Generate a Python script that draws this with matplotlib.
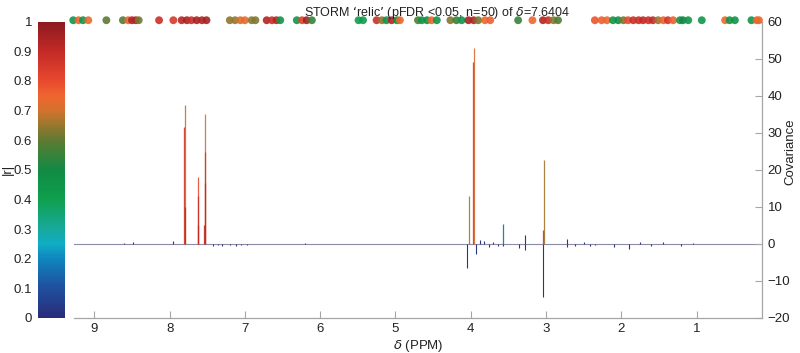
import numpy as np
import matplotlib
matplotlib.use("Agg")
import matplotlib.pyplot as plt
from matplotlib.colors import LinearSegmentedColormap, Normalize
from matplotlib.cm import ScalarMappable

plt.rcParams['font.family'] = ['Liberation Sans Narrow', 'Liberation Sans', 'DejaVu Sans']

# -----------------------------
# Data
# -----------------------------
# main spectral peaks: position (ppm), covariance, |r|
peak_ppm = [7.800, 7.803, 7.797, 7.620, 7.624, 7.617, 7.530, 7.534, 7.526, 7.538,
            4.020, 3.960, 3.963, 3.570, 3.030, 3.033]
peak_cov = [37.5, 31.6, 10.0, 18.1, 13.0, 5.0, 35.0, 24.9, 16.4, 5.0,
            13.0, 52.8, 49.2, 5.3, 22.6, 3.7]
peak_r = [0.68, 0.86, 0.90, 0.80, 0.88, 0.90, 0.70, 0.86, 0.90, 0.90,
          0.66, 0.72, 0.84, 0.15, 0.66, 0.86]

# small baseline wiggles and negative peaks
small_ppm = [8.49, 7.95, 7.42, 7.36, 7.30, 7.20, 7.12, 7.05, 6.97, 6.20,
             4.05, 3.93, 3.88, 3.82, 3.76, 3.70, 3.64, 3.57, 3.36, 3.28,
             3.275, 3.04, 2.72, 2.715, 2.62, 2.50, 2.42, 2.35, 2.10, 1.90,
             1.75, 1.60, 1.45, 1.20, 1.05, 8.60]
small_cov = [0.6, 0.8, -0.6, -0.4, -0.5, -0.4, -0.5, -0.3, -0.4, 0.3,
             -6.6, -2.7, 1.0, 0.8, -0.7, 0.6, -0.5, -0.6, -1.0, 2.4,
             -1.7, -14.3, 1.2, -0.9, -0.5, 0.5, -0.6, -0.4, -0.8, -1.5,
             0.5, -0.6, 0.4, -0.5, 0.3, 0.3]

# significant variables shown as dots along the top
dot_ppm = [9.28, 9.21, 9.15, 9.08, 8.84, 8.62, 8.55, 8.50, 8.45, 8.41,
           8.14, 7.95, 7.84, 7.77, 7.71, 7.64, 7.57, 7.51, 7.20, 7.13,
           7.06, 7.00, 6.91, 6.86, 6.71, 6.64, 6.58, 6.53, 6.31, 6.24,
           6.18, 6.11, 5.49, 5.43, 5.25, 5.18, 5.12, 5.05, 4.98, 4.94,
           4.70, 4.65, 4.58, 4.52, 4.45, 4.27, 4.19, 4.12, 4.03, 3.96,
           3.90, 3.81, 3.74, 3.37, 3.18, 3.04, 2.97, 2.90, 2.84, 2.35,
           2.26, 2.19, 2.11, 2.04, 1.97, 1.91, 1.84, 1.77, 1.71, 1.64,
           1.58, 1.51, 1.44, 1.38, 1.31, 1.22, 1.18, 1.11, 0.93, 0.62,
           0.56, 0.49, 0.27, 0.20, 0.17]
dot_r = [0.45, 0.74, 0.45, 0.74, 0.60, 0.58, 0.74, 0.93, 0.93, 0.62,
         0.88, 0.85, 0.92, 0.95, 0.88, 0.95, 0.93, 0.95, 0.64, 0.65,
         0.72, 0.74, 0.64, 0.63, 0.93, 0.88, 0.93, 0.45, 0.45, 0.82,
         0.95, 0.55, 0.42, 0.42, 0.88, 0.65, 0.45, 0.93, 0.48, 0.74,
         0.58, 0.45, 0.48, 0.74, 0.45, 0.63, 0.55, 0.45, 0.95, 0.93,
         0.62, 0.74, 0.76, 0.55, 0.74, 0.93, 0.88, 0.64, 0.58, 0.78,
         0.76, 0.74, 0.45, 0.48, 0.62, 0.80, 0.88, 0.88, 0.90, 0.88,
         0.90, 0.65, 0.74, 0.86, 0.76, 0.45, 0.50, 0.45, 0.45, 0.74,
         0.45, 0.45, 0.45, 0.74, 0.74]

x_ticks = [9, 8, 7, 6, 5, 4, 3, 2, 1]
y_ticks = [-20, -10, 0, 10, 20, 30, 40, 50, 60]
r_ticks = [0, 0.1, 0.2, 0.3, 0.4, 0.5, 0.6, 0.7, 0.8, 0.9, 1]

# -----------------------------
# Colormap for |r|
# -----------------------------
cmap = LinearSegmentedColormap.from_list("storm", [
    (0.00, '#2a2c7a'), (0.10, '#1f4f9e'), (0.20, '#0f86bf'),
    (0.25, '#10adc4'), (0.30, '#17a99a'), (0.40, '#0fa04e'),
    (0.50, '#128a44'), (0.60, '#5e7a32'), (0.70, '#d1732c'),
    (0.75, '#f0652f'), (0.80, '#e84a2e'), (0.90, '#c42a27'),
    (1.00, '#8b1a1f')])
norm = Normalize(0, 1)

fig = plt.figure(figsize=(8, 3.53), dpi=100)
ax = fig.add_axes([0.0925, 0.0992, 0.86, 0.8393])
cax = fig.add_axes([0.047, 0.0992, 0.034, 0.8393])

# spectrum baseline + wiggles + peaks
ax.axhline(0, color='#8c8ca8', lw=0.8, zorder=1)
ax.vlines(small_ppm, 0, small_cov, color='#2c3584', lw=0.8, zorder=2)
ax.vlines(peak_ppm, 0, peak_cov, colors=cmap(norm(np.array(peak_r))),
          lw=0.9, alpha=0.9, zorder=3)

# top dots
ax.scatter(dot_ppm, [60.4] * len(dot_ppm), c=dot_r, cmap=cmap, norm=norm,
           s=32, edgecolors='none', alpha=0.9, clip_on=False, zorder=4)

ax.set_xlim(9.27, 0.13)
ax.set_ylim(-20, 60)
ax.set_xticks(x_ticks)
ax.set_yticks(y_ticks)
ax.set_yticklabels([str(v).replace('-', '\u2212') for v in y_ticks])
ax.yaxis.tick_right()
for s in ['top', 'left']:
    ax.spines[s].set_visible(False)
for s in ['bottom', 'right']:
    ax.spines[s].set_color('#a6a6a6')
    ax.spines[s].set_linewidth(0.9)
ax.tick_params(axis='both', direction='in', length=5, color='#a6a6a6',
               labelsize=9.5, labelcolor='#222222')
ax.tick_params(axis='y', pad=4)
ax.set_xlabel(r'$\delta$ (PPM)', fontsize=9.5, color='#222222', labelpad=2)
fig.text(0.988, 0.57, 'Covariance', rotation=90, ha='center', va='center',
         fontsize=9.5, color='#222222')

# colorbar
cb = fig.colorbar(ScalarMappable(norm=norm, cmap=cmap), cax=cax)
cb.outline.set_visible(False)
cb.set_ticks(r_ticks)
cb.set_ticklabels(['0', '0.1', '0.2', '0.3', '0.4', '0.5', '0.6', '0.7', '0.8', '0.9', '1'])
cax.yaxis.set_ticks_position('left')
cax.yaxis.set_label_position('left')
cax.tick_params(length=0, labelsize=9.5, labelcolor='#222222', pad=4)
cb.set_label('|r|', fontsize=9.5, color='#222222', labelpad=0)

fig.text(0.546, 0.99, r'STORM ‘relic’ (pFDR <0.05, n=50) of $\delta$=7.6404',
         ha='center', va='top', fontsize=9, color='#222222',
         family=['Liberation Sans', 'DejaVu Sans'])

plt.savefig("out.png", dpi=100)
